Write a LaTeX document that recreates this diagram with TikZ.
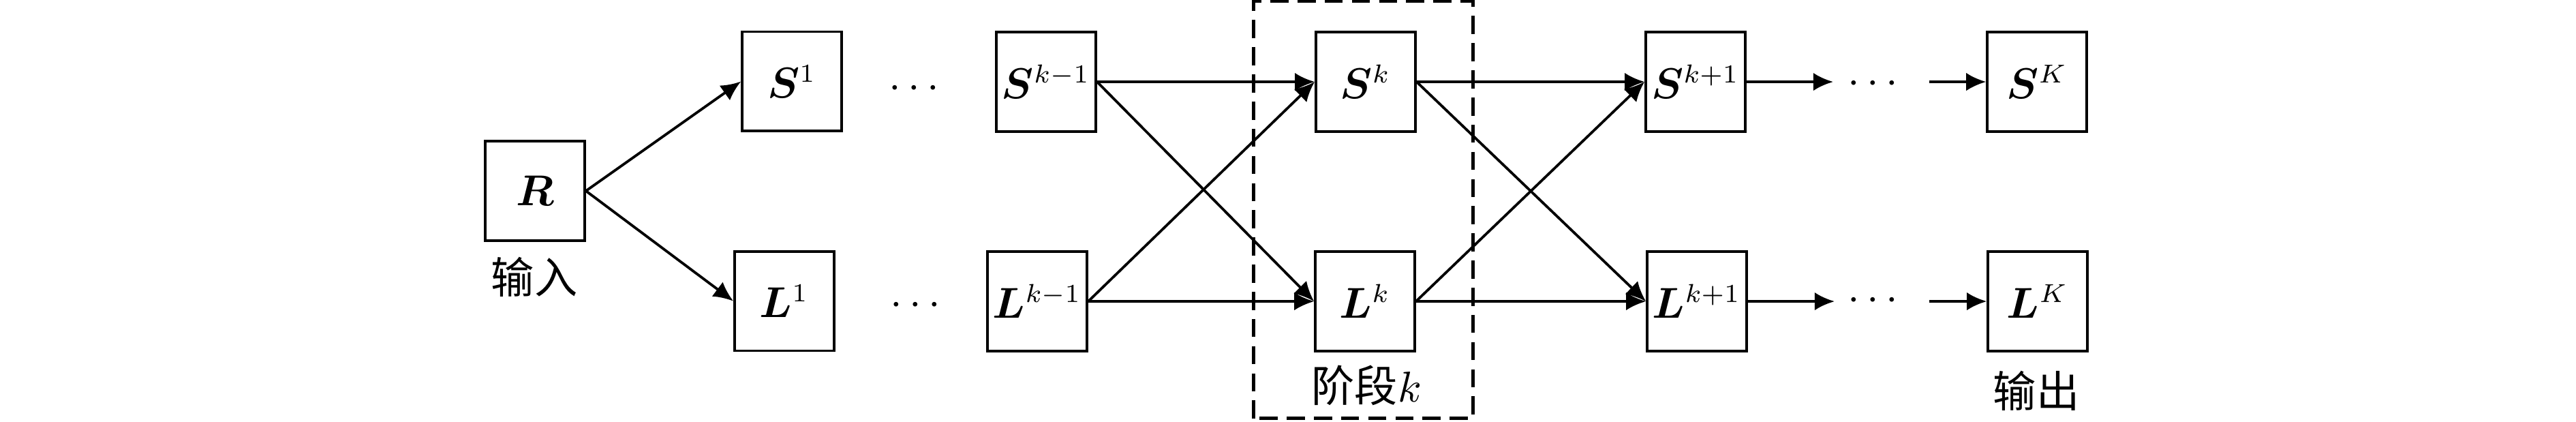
\documentclass[tikz,border=0pt]{standalone}
\usepackage{amsmath}
\usepackage{bm}
\usepackage{fontspec}
\newfontfamily\cjk{Noto Sans CJK SC}
\usetikzlibrary{arrows.meta}
\newcommand{\sq}[2]{$\bm{#1}^{\scalebox{0.86}{$\scriptstyle #2$}}$}

\begin{document}
\begin{tikzpicture}[
  blk/.style={draw,semithick,minimum size=0.81cm,inner sep=0pt},
  arr/.style={semithick,-{Latex[length=4.6pt,width=4.2pt]}}]
\useasboundingbox (0,0) rectangle (21,3.439);

%輸入與第一階段
\node[blk] (nR) at (4.361,1.883) {$\bm{R}$};
\node (tIn) at (4.356,1.180) {\cjk 输入};
\node[blk] (nS1) at (6.456,2.775) {\sq{S}{1}};
\node[blk] (nL1) at (6.394,0.985) {\sq{L}{1}};
\node (dS1) at (7.48,2.715) {$\cdots$};
\node (dL1) at (7.49,0.950) {$\cdots$};

%第k-1, k, k+1階段
\node[blk] (nSkm) at (8.528,2.772) {\sq{S}{k-1}};
\node[blk] (nLkm) at (8.456,0.983) {\sq{L}{k-1}};
\node[blk] (nSk) at (11.133,2.772) {\sq{S}{k}};
\node[blk] (nLk) at (11.128,0.983) {\sq{L}{k}};
\node[blk] (nSkp) at (13.822,2.772) {\sq{S}{k+1}};
\node[blk] (nLkp) at (13.833,0.983) {\sq{L}{k+1}};
\draw[thick,dash pattern=on 4.2pt off 2.1pt] (10.217,0.028) rectangle (12.006,3.431);
\node (tStage) at (11.14,0.300) {\cjk 阶段$k$};

%最後階段
\node (dS2) at (15.30,2.755) {$\cdots$};
\node (dL2) at (15.30,0.985) {$\cdots$};
\coordinate (cSa) at (14.944,2.772);
\coordinate (cSb) at (15.728,2.772);
\coordinate (cLa) at (14.955,0.983);
\coordinate (cLb) at (15.728,0.983);
\node[blk] (nSK) at (16.606,2.772) {\sq{S}{K}};
\node[blk] (nLK) at (16.611,0.983) {\sq{L}{K}};
\node (tOut) at (16.60,0.255) {\cjk 输出};

\draw[arr] (nR.east) -- (nS1.west);
\draw[arr] (nR.east) -- (nL1.west);

\draw[arr] (nSkm.east) -- (nSk.west);
\draw[arr] (nSkm.east) -- (nLk.west);
\draw[arr] (nLkm.east) -- (nSk.west);
\draw[arr] (nLkm.east) -- (nLk.west);

\draw[arr] (nSk.east) -- (nSkp.west);
\draw[arr] (nSk.east) -- (nLkp.west);
\draw[arr] (nLk.east) -- (nSkp.west);
\draw[arr] (nLk.east) -- (nLkp.west);

\draw[arr] (nSkp.east) -- (cSa);
\draw[arr] (cSb) -- (nSK.west);
\draw[arr] (nLkp.east) -- (cLa);
\draw[arr] (cLb) -- (nLK.west);

\end{tikzpicture}
\end{document}
